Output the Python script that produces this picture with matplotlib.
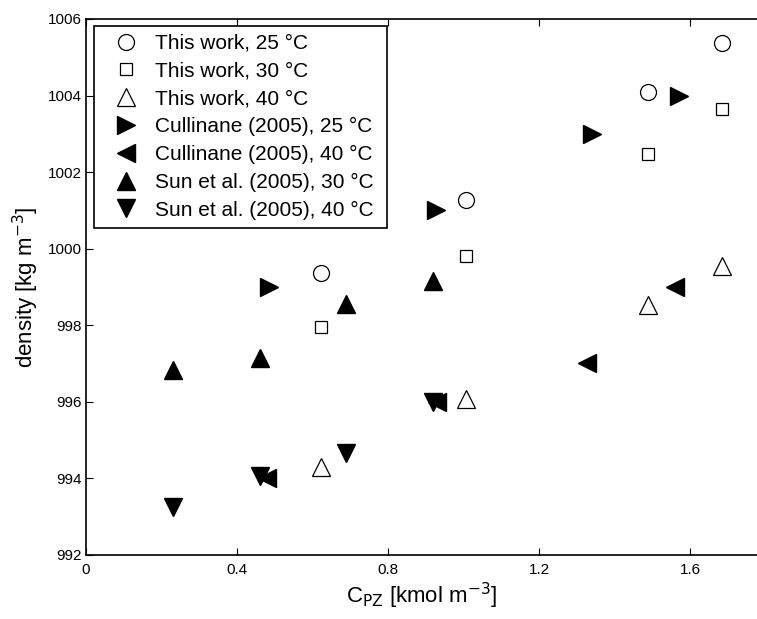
import matplotlib
matplotlib.use("Agg")
import matplotlib.pyplot as plt

plt.rcParams['font.family'] = ['Liberation Sans', 'DejaVu Sans']

# This work
tw_x = [0.622, 1.006, 1.490, 1.686]
tw_25 = [999.36, 1001.28, 1004.10, 1005.38]
tw_30 = [997.94, 999.80, 1002.47, 1003.66]
tw_40 = [994.30, 996.08, 998.52, 999.54]

# Cullinane (2005)
cu25_x = [0.486, 0.928, 1.340, 1.572]
cu25_y = [999.0, 1001.0, 1003.0, 1004.0]
cu40_x = [0.479, 0.930, 1.326, 1.560]
cu40_y = [994.0, 996.0, 997.0, 999.0]

# Sun et al. (2005)
sun_x = [0.231, 0.461, 0.690, 0.920]
sun30_y = [996.82, 997.13, 998.54, 999.14]
sun40_y = [993.25, 994.05, 994.66, 996.0]

xticks = [0, 0.4, 0.8, 1.2, 1.6]
xticklabels = ['0', '0.4', '0.8', '1.2', '1.6']
yticks = [992, 994, 996, 998, 1000, 1002, 1004, 1006]

W, H = 757, 619
ax_l, ax_b, ax_t = 86, 554.7, 19
fig = plt.figure(figsize=(W / 100, H / 100), dpi=100)
ax = fig.add_axes([ax_l / W, 1 - ax_b / H, 1 - ax_l / W, (ax_b - ax_t) / H])

mew = 0.9
ax.plot(tw_x, tw_25, linestyle='none', marker='o', ms=11.5, mfc='white', mec='black', mew=mew, label='This work, 25 \u00b0C')
ax.plot(tw_x, tw_30, linestyle='none', marker='s', ms=9, mfc='white', mec='black', mew=mew, label='This work, 30 \u00b0C')
ax.plot(tw_x, tw_40, linestyle='none', marker='^', ms=13, mfc='white', mec='black', mew=mew, label='This work, 40 \u00b0C')
ax.plot(cu25_x, cu25_y, linestyle='none', marker='>', ms=12.5, color='black', label='Cullinane (2005), 25 \u00b0C')
ax.plot(cu40_x, cu40_y, linestyle='none', marker='<', ms=12.5, color='black', label='Cullinane (2005), 40 \u00b0C')
ax.plot(sun_x, sun30_y, linestyle='none', marker='^', ms=12.5, color='black', label='Sun et al. (2005), 30 \u00b0C')
ax.plot(sun_x, sun40_y, linestyle='none', marker='v', ms=12.5, color='black', label='Sun et al. (2005), 40 \u00b0C')

ax.set_xlim(0, (W - ax_l) / 377.5)
ax.set_ylim(992, 1006)
ax.set_xticks(xticks)
ax.set_xticklabels(xticklabels)
ax.set_yticks(yticks)
ax.tick_params(direction='in', length=5, width=0.8, labelsize=11, top=True, right=False)
ax.tick_params(axis='x', pad=6)
ax.tick_params(axis='y', pad=3)
for s in ['left', 'bottom', 'top']:
    ax.spines[s].set_linewidth(1.2)
ax.spines['right'].set_visible(False)

ax.set_xlabel('C$_{\\mathrm{PZ}}$ [kmol m$^{-3}$]', fontsize=16, labelpad=3)
ax.set_ylabel('density [kg m$^{-3}$]', fontsize=16, labelpad=5)

# legend frame box in pixels (left, top, right)
lg_l, lg_t, lg_r = 94, 26, 387
axw, axh = W - ax_l, ax_b - ax_t
x0 = (lg_l - ax_l) / axw
y1 = (ax_b - lg_t) / axh
wd = (lg_r - lg_l) / axw
leg = ax.legend(loc='upper left', bbox_to_anchor=(x0, 0.4, wd, y1 - 0.4), mode='expand',
                fontsize=15, frameon=True, fancybox=False,
                edgecolor='black', framealpha=1, borderaxespad=0.0,
                handlelength=2.3, handletextpad=0.25, labelspacing=0.42,
                borderpad=0.38, numpoints=1)
leg.get_frame().set_linewidth(1.2)

fig.savefig('out.png', dpi=100)
